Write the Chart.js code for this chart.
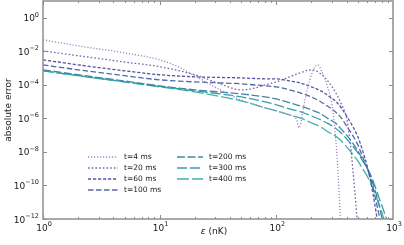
<!DOCTYPE html>
<html>
<head>
<meta charset="utf-8">
<script src="https://cdn.jsdelivr.net/npm/chart.js@4.4.1/dist/chart.umd.min.js"></script>
<style>
    html, body { margin: 0; padding: 0; background: #fff; }
    #wrap { width: 404px; height: 245px; }
</style>
</head>
<body>
<div id="wrap"><canvas id="errorChart" width="404" height="245"></canvas></div>
<script>
// epsilon (nK) and absolute error for each time
const eps4 = [1, 2, 5, 10, 15, 20, 33, 50, 80, 100, 130, 150, 156, 176, 194, 214, 227, 246, 271, 300, 318, 337, 351, 365];
const err4 = [4.9e-2, 2.1e-2, 8.1e-3, 3.1e-3, 1.05e-3, 3.5e-4, 5.0e-5, 1.25e-5, 4.3e-6, 2.8e-6, 1.6e-6, 8.1e-7, 2.7e-7, 1.25e-5, 2.0e-4, 1.2e-3, 1.55e-3, 6.0e-4, 1.0e-4, 6.5e-6, 2.0e-7, 8.5e-10, 3.5e-12, 5.6e-14];

const eps20 = [1, 2, 5, 10, 20, 33, 50, 66, 80, 100, 130, 160, 200, 240, 280, 320, 360, 400, 427, 453, 481, 500];
const err20 = [1.07e-2, 5.4e-3, 2.3e-3, 1.2e-3, 4.0e-4, 1.15e-4, 5.0e-5, 6.6e-5, 1.0e-4, 1.5e-4, 3.0e-4, 5.2e-4, 7.9e-4, 4.6e-4, 1.5e-4, 3.8e-5, 7.4e-6, 1.07e-6, 5.2e-8, 8.5e-10, 6.9e-12, 2.2e-13];

const eps60 = [1, 2, 5, 10, 20, 50, 80, 100, 130, 160, 200, 240, 280, 320, 360, 400, 450, 500, 550, 600, 650, 700, 737];
const err60 = [3.1e-3, 1.55e-3, 6.9e-4, 4.0e-4, 3.0e-4, 2.6e-4, 2.3e-4, 2.3e-4, 1.7e-4, 1.3e-4, 7.6e-5, 4.4e-5, 2.2e-5, 1.1e-5, 4.3e-6, 1.4e-6, 3.5e-7, 7.9e-8, 1.15e-8, 1.45e-9, 1.2e-10, 6.9e-12, 6.6e-13];

const eps100 = [1, 2, 5, 10, 20, 50, 80, 100, 130, 160, 200, 240, 280, 320, 360, 400, 450, 500, 550, 600, 650, 700, 750, 800];
const err100 = [1.55e-3, 7.9e-4, 3.5e-4, 2.0e-4, 1.5e-4, 1.15e-4, 8.7e-5, 7.6e-5, 5.0e-5, 3.3e-5, 1.9e-5, 9.8e-6, 4.9e-6, 2.5e-6, 1.07e-6, 3.5e-7, 1.0e-7, 2.6e-8, 5.0e-9, 1.1e-9, 1.9e-10, 2.3e-11, 2.6e-12, 4.0e-13];

const eps200 = [1, 2, 5, 10, 20, 50, 80, 100, 130, 160, 200, 240, 280, 320, 360, 400, 450, 500, 550, 600, 650, 700, 750, 800, 850];
const err200 = [7.9e-4, 4.0e-4, 1.7e-4, 8.7e-5, 5.0e-5, 2.9e-5, 1.9e-5, 1.45e-5, 8.5e-6, 5.6e-6, 3.2e-6, 1.9e-6, 9.3e-7, 5.4e-7, 2.3e-7, 1.0e-7, 3.5e-8, 1.15e-8, 3.3e-9, 1.1e-9, 2.8e-10, 5.6e-11, 1.0e-11, 1.3e-12, 1.6e-13];

const eps300 = [1, 2, 5, 10, 20, 50, 80, 100, 130, 160, 200, 240, 280, 320, 360, 400, 450, 500, 550, 600, 650, 700, 750, 800, 850, 906];
const err300 = [6.9e-4, 3.5e-4, 1.5e-4, 8.1e-5, 4.4e-5, 1.9e-5, 9.8e-6, 6.5e-6, 3.7e-6, 2.5e-6, 1.4e-6, 8.1e-7, 4.7e-7, 2.7e-7, 1.35e-7, 6.0e-8, 2.3e-8, 8.7e-9, 2.9e-9, 1.1e-9, 3.7e-10, 9.3e-11, 2.3e-11, 6.9e-12, 2.0e-12, 5.8e-13];

const eps400 = [1, 2, 5, 10, 20, 50, 80, 100, 130, 160, 200, 240, 280, 320, 360, 400, 450, 500, 550, 600, 650, 700, 750, 800, 850];
const err400 = [6.9e-4, 3.5e-4, 1.5e-4, 7.6e-5, 3.8e-5, 1.1e-5, 4.3e-6, 2.8e-6, 1.6e-6, 1.07e-6, 5.4e-7, 3.1e-7, 1.5e-7, 9.1e-8, 4.6e-8, 2.0e-8, 7.6e-9, 2.9e-9, 9.8e-10, 3.7e-10, 1.2e-10, 3.5e-11, 9.1e-12, 2.6e-12, 6.6e-13];

const seriesLabels = ["t=4 ms", "t=20 ms", "t=60 ms", "t=100 ms", "t=200 ms", "t=300 ms", "t=400 ms"];
const xTickExps = [0, 1, 2, 3];
const yTickExps = [0, -2, -4, -6, -8, -10, -12];

const allEps = [eps4, eps20, eps60, eps100, eps200, eps300, eps400];
const allErr = [err4, err20, err60, err100, err200, err300, err400];
const colors = ["#a486c8", "#7c60b0", "#5a54a6", "#5069a6", "#4486aa", "#33a0a8", "#40b5a6"];
const dashes = [[1.2, 1.8], [1.6, 2.1], [3.2, 1.8], [5.5, 2.5], [8, 2.5], [10, 3], [12, 3]];

const FONT = "'DejaVu Sans', sans-serif";

// "10" with a raised exponent, like matplotlib's log labels
function drawPow(ctx, x, y, exp, align) {
    const base = "10";
    const sup = exp < 0 ? "\u2212" + (-exp) : String(exp);
    ctx.font = "9px " + FONT;
    const bw = ctx.measureText(base).width;
    ctx.font = "6.5px " + FONT;
    const sw = ctx.measureText(sup).width;
    const x0 = align === "right" ? x - bw - sw : x - (bw + sw) / 2;
    ctx.textAlign = "left";
    ctx.textBaseline = "alphabetic";
    ctx.font = "9px " + FONT;
    ctx.fillText(base, x0, y);
    ctx.font = "6.5px " + FONT;
    ctx.fillText(sup, x0 + bw, y - 4.5);
}

const framePlugin = {
    id: "framePlugin",
    afterDatasetsDraw(chart) {
        const ctx = chart.ctx;
        const a = chart.chartArea;
        const xs = chart.scales.x;
        const ys = chart.scales.y;
        ctx.save();

        // ticks (inward, on all four sides)
        ctx.strokeStyle = "#8e8e8e";
        ctx.lineWidth = 1;
        ctx.beginPath();
        for (let e = 0; e < 3; e++) {
            for (let m = 1; m < 10; m++) {
                const px = Math.round(xs.getPixelForValue(m * Math.pow(10, e))) + 0.5;
                const len = m === 1 ? 4 : 2;
                ctx.moveTo(px, a.bottom); ctx.lineTo(px, a.bottom - len);
                ctx.moveTo(px, a.top); ctx.lineTo(px, a.top + len);
            }
        }
        yTickExps.forEach(e => {
            const py = Math.round(ys.getPixelForValue(Math.pow(10, e))) + 0.5;
            ctx.moveTo(a.left, py); ctx.lineTo(a.left + 4, py);
            ctx.moveTo(a.right, py); ctx.lineTo(a.right - 4, py);
        });
        ctx.stroke();

        // spines
        ctx.lineWidth = 1.5;
        ctx.strokeRect(a.left, a.top, a.right - a.left, a.bottom - a.top);

        // tick labels
        ctx.fillStyle = "#1a1a1a";
        xTickExps.forEach(e => drawPow(ctx, xs.getPixelForValue(Math.pow(10, e)) + 1, 230.5, e, "center"));
        yTickExps.forEach(e => drawPow(ctx, 39, ys.getPixelForValue(Math.pow(10, e)) + 3.5, e, "right"));

        // axis titles
        ctx.font = "italic 9px " + FONT;
        const w1 = ctx.measureText("\u03b5").width;
        ctx.font = "9px " + FONT;
        const w2 = ctx.measureText(" (nK)").width;
        const tx = (a.left + a.right) / 2 - (w1 + w2) / 2 - 4;
        ctx.textAlign = "left";
        ctx.font = "italic 9px " + FONT;
        ctx.fillText("\u03b5", tx, 234);
        ctx.font = "9px " + FONT;
        ctx.fillText(" (nK)", tx + w1, 234);

        ctx.save();
        ctx.translate(9, (a.top + a.bottom) / 2);
        ctx.rotate(-Math.PI / 2);
        ctx.textAlign = "center";
        ctx.textBaseline = "middle";
        ctx.fillText("absolute error", 0, 0);
        ctx.restore();

        // legend, two columns inside the axes
        const cols = [{ x0: 88, x1: 118, tx: 124 }, { x0: 177, x1: 203, tx: 209 }];
        ctx.font = "7.5px " + FONT;
        ctx.textAlign = "left";
        ctx.textBaseline = "middle";
        seriesLabels.forEach((lab, i) => {
            const c = cols[i < 4 ? 0 : 1];
            const y = 157 + 11 * (i < 4 ? i : i - 4);
            ctx.strokeStyle = colors[i];
            ctx.lineWidth = 1.3;
            ctx.setLineDash(dashes[i]);
            ctx.beginPath();
            ctx.moveTo(c.x0, y);
            ctx.lineTo(c.x1, y);
            ctx.stroke();
            ctx.setLineDash([]);
            ctx.fillStyle = "#222";
            ctx.fillText(lab, c.tx, y + 0.5);
        });

        ctx.restore();
    }
};

const datasets = seriesLabels.map((lab, i) => ({
    label: lab,
    data: allEps[i].map((x, j) => ({ x: x, y: allErr[i][j] })),
    borderColor: colors[i],
    borderWidth: 1.3,
    borderDash: dashes[i],
    pointRadius: 0,
    fill: false,
    cubicInterpolationMode: "monotone"
}));

new Chart(document.getElementById("errorChart"), {
    type: "line",
    data: { datasets: datasets },
    options: {
        responsive: false,
        animation: false,
        layout: { padding: { left: 43, right: 11, top: 1, bottom: 26 } },
        plugins: { legend: { display: false }, tooltip: { enabled: false } },
        scales: {
            x: { type: "logarithmic", min: 1, max: 1000, display: false },
            y: { type: "logarithmic", min: 1e-12, max: 10, display: false }
        }
    },
    plugins: [framePlugin]
});
</script>
</body>
</html>
